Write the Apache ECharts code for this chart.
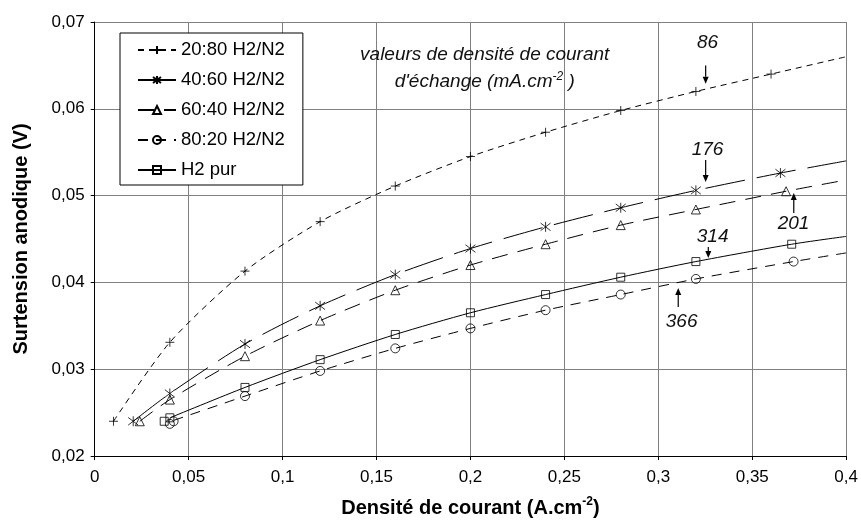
<!DOCTYPE html>
<html><head><meta charset="utf-8">
<script src="https://cdn.jsdelivr.net/npm/echarts@6/dist/echarts.min.js"></script>
<style>html,body{margin:0;padding:0;background:#fff}#c{width:861px;height:527px}</style>
</head><body><div id="c"></div>
<script>
const FONT = '"Liberation Sans", Arial, sans-serif';
const seriesNames = ['20:80 H2/N2', '40:60 H2/N2', '60:40 H2/N2', '80:20 H2/N2', 'H2 pur'];
const xTicks = ['0', '0,05', '0,1', '0,15', '0,2', '0,25', '0,3', '0,35', '0,4'];
const yTicks = ['0,02', '0,03', '0,04', '0,05', '0,06', '0,07'];

// measured points (markers)
const pts2080 = [[0.01,0.0240],[0.04,0.0331],[0.08,0.0413],[0.12,0.0470],[0.16,0.0511],[0.20,0.0545],[0.24,0.0573],[0.28,0.0598],[0.32,0.0620],[0.36,0.0640]];
const pts4060 = [[0.0205,0.0240],[0.04,0.0272],[0.08,0.0329],[0.12,0.0373],[0.16,0.0409],[0.20,0.0439],[0.24,0.0464],[0.28,0.0486],[0.32,0.0506],[0.365,0.0526]];
const pts6040 = [[0.024,0.0240],[0.04,0.0265],[0.08,0.0315],[0.12,0.0356],[0.16,0.0391],[0.20,0.0420],[0.24,0.0444],[0.28,0.0466],[0.32,0.0484],[0.368,0.0505]];
const pts8020 = [[0.040,0.0237],[0.042,0.0240],[0.08,0.0269],[0.12,0.0298],[0.16,0.0324],[0.20,0.0347],[0.24,0.0368],[0.28,0.0386],[0.32,0.0404],[0.372,0.0424]];
const ptsH2   = [[0.037,0.0240],[0.040,0.0244],[0.08,0.0279],[0.12,0.0311],[0.16,0.0340],[0.20,0.0365],[0.24,0.0386],[0.28,0.0406],[0.32,0.0424],[0.371,0.0444]];

// trend lines (start ... right edge of plot)
const trend2080 = [[0.01,0.0240],[0.04,0.0331],[0.08,0.0413],[0.12,0.0470],[0.16,0.0511],[0.20,0.0545],[0.24,0.0573],[0.28,0.0598],[0.32,0.0620],[0.36,0.0640],[0.40,0.0660]];
const trend4060 = [[0.0205,0.0240],[0.04,0.0272],[0.08,0.0329],[0.12,0.0373],[0.16,0.0409],[0.20,0.0439],[0.24,0.0464],[0.28,0.0486],[0.32,0.0506],[0.365,0.0526],[0.40,0.0540]];
const trend6040 = [[0.024,0.0240],[0.04,0.0265],[0.08,0.0315],[0.12,0.0356],[0.16,0.0391],[0.20,0.0420],[0.24,0.0444],[0.28,0.0466],[0.32,0.0484],[0.368,0.0505],[0.40,0.0518]];
const trend8020 = [[0.042,0.0241],[0.08,0.0269],[0.12,0.0298],[0.16,0.0324],[0.20,0.0347],[0.24,0.0368],[0.28,0.0386],[0.32,0.0404],[0.372,0.0424],[0.40,0.0434]];
const trendH2   = [[0.040,0.0244],[0.08,0.0279],[0.12,0.0311],[0.16,0.0340],[0.20,0.0365],[0.24,0.0386],[0.28,0.0406],[0.32,0.0424],[0.371,0.0444],[0.40,0.0453]];

// annotation values (exchange current densities) and where they sit
const annoLabels = ['86', '176', '201', '314', '366'];
const annoText   = [[0.3262,0.0676],[0.3262,0.05525],[0.3720,0.04673],[0.3289,0.04523],[0.3124,0.03544]];
const annoFrom   = [[0.3252,0.0650],[0.3252,0.0541],[0.3721,0.0480],[0.3266,0.04408],[0.3106,0.03717]];
const annoTo     = [[0.3252,0.0629],[0.3252,0.05157],[0.3721,0.0503],[0.3266,0.04281],[0.3106,0.03935]];
const noteLine1 = [0.2076, 0.0662];
const noteLine2 = [0.2076, 0.0631];

const pts = [pts2080, pts4060, pts6040, pts8020, ptsH2];
const trends = [trend2080, trend4060, trend6040, trend8020, trendH2];
const symbols = ['path://M0,5L10,5M5,0L5,10', 'path://M5,0L5,10M1.2,1.2L8.8,8.8M8.8,1.2L1.2,8.8', 'triangle', 'circle', 'rect'];
const symSizes = [9, 10, 9, 9, 8];
const dashes = [[6,5], [40,12], [16,10], [10,8], 'solid'];

const chart = echarts.init(document.getElementById('c'), null, {renderer: 'canvas'});
const series = [];
seriesNames.forEach((n, i) => {
  series.push({
    name: n, type: 'line', data: trends[i], smooth: 0.25,
    showSymbol: false, symbol: symbols[i], symbolSize: symSizes[i],
    lineStyle: {color: '#000', width: 1, type: dashes[i]},
    itemStyle: {color: 'rgba(255,255,255,0)', borderColor: '#000', borderWidth: 1},
    emphasis: {disabled: true}, silent: true, z: 2
  });
});
seriesNames.forEach((n, i) => {
  series.push({
    name: n, type: 'scatter', data: pts[i], symbol: symbols[i], symbolSize: symSizes[i],
    itemStyle: {color: 'rgba(255,255,255,0)', borderColor: '#000', borderWidth: 1},
    emphasis: {disabled: true}, silent: true, z: 3
  });
});

chart.setOption({
  animation: false,
  backgroundColor: '#fff',
  textStyle: {fontFamily: FONT},
  grid: {left: 94.7, right: 14, top: 22, bottom: 71, containLabel: false},
  legend: {
    data: seriesNames.map(n => ({name: n})),
    orient: 'vertical', left: 120, top: 33,
    padding: [6, 18, 4, 17],
    itemWidth: 38, itemHeight: 10, itemGap: 8,
    borderColor: '#000', borderWidth: 1, backgroundColor: '#fff',
    textStyle: {fontFamily: FONT, fontSize: 18.5, color: '#000', lineHeight: 22},
    selectedMode: false
  },
  xAxis: {
    type: 'value', min: 0, max: 0.4, interval: 0.05,
    name: '{b|Densité de courant (A.cm}{s|-2}{b|)}',
    nameLocation: 'middle', nameGap: 40,
    nameTextStyle: {rich: {
      b: {fontFamily: FONT, fontSize: 20, fontWeight: 'bold', color: '#000', lineHeight: 24},
      s: {fontFamily: FONT, fontSize: 12, fontWeight: 'bold', color: '#000', verticalAlign: 'top', lineHeight: 24}
    }},
    axisLine: {show: true, lineStyle: {color: '#000', width: 1}},
    axisTick: {show: true, length: 4, lineStyle: {color: '#000'}},
    axisLabel: {color: '#000', fontSize: 17, fontFamily: FONT, margin: 13,
      formatter: v => xTicks[Math.round(v / 0.05)]},
    splitLine: {show: true, lineStyle: {color: '#808080', width: 1}}
  },
  yAxis: {
    type: 'value', min: 0.02, max: 0.07, interval: 0.01,
    name: 'Surtension anodique (V)', nameLocation: 'middle', nameGap: 63,
    nameTextStyle: {fontFamily: FONT, fontSize: 20, fontWeight: 'bold', color: '#000'},
    axisLine: {show: true, lineStyle: {color: '#000', width: 1}},
    axisTick: {show: true, length: 4, lineStyle: {color: '#000'}},
    axisLabel: {color: '#000', fontSize: 17, fontFamily: FONT, margin: 10,
      formatter: v => yTicks[Math.round((v - 0.02) / 0.01)]},
    splitLine: {show: true, lineStyle: {color: '#808080', width: 1}}
  },
  series: series
});

const P = c => chart.convertToPixel({gridIndex: 0}, c);
const graphics = [];
const italic = {fontFamily: FONT, fontSize: 19, fontStyle: 'italic', fill: '#111'};
let p1 = P(noteLine1), p2 = P(noteLine2);
graphics.push({type: 'text', x: p1[0], y: p1[1], style: Object.assign({text: 'valeurs de densité de courant', align: 'center', verticalAlign: 'middle'}, italic), z: 10});
graphics.push({type: 'text', x: p2[0], y: p2[1], style: {text: "{n|d'échange (mA.cm}{s|-2}{n| )}", align: 'center', verticalAlign: 'middle',
  rich: {n: Object.assign({lineHeight: 22}, italic), s: {fontFamily: FONT, fontSize: 12, fontStyle: 'italic', fill: '#111', verticalAlign: 'top', lineHeight: 22}}}, z: 10});
annoLabels.forEach((t, i) => {
  const pt = P(annoText[i]);
  graphics.push({type: 'text', x: pt[0], y: pt[1], style: Object.assign({text: t, align: 'center', verticalAlign: 'middle'}, italic), z: 10});
  const a = P(annoFrom[i]), b = P(annoTo[i]);
  const dir = b[1] > a[1] ? 1 : -1;
  const headLen = 7;
  graphics.push({type: 'line', shape: {x1: a[0], y1: a[1], x2: b[0], y2: b[1] - dir * headLen}, style: {stroke: '#000', lineWidth: 1.2}, z: 10});
  graphics.push({type: 'polygon', shape: {points: [[b[0], b[1]], [b[0] - 3, b[1] - dir * headLen], [b[0] + 3, b[1] - dir * headLen]]}, style: {fill: '#000'}, z: 10});
});
chart.setOption({graphic: graphics});
</script>
</body></html>
